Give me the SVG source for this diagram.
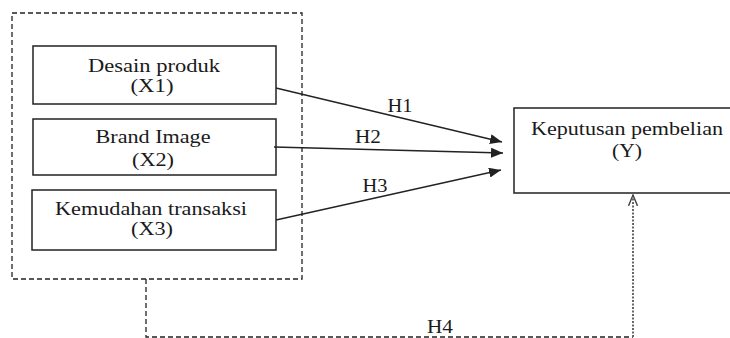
<svg xmlns="http://www.w3.org/2000/svg" width="730" height="338" viewBox="0 0 730 338">
<style>
.box{fill:#fff;stroke:#222;stroke-width:1.5}
.t{font-family:"Liberation Serif","Times New Roman",serif;font-size:19px;fill:#1a1a1a;text-anchor:middle}
.ln{fill:none;stroke:#222;stroke-width:1.3}
.dash{fill:none;stroke:#222;stroke-width:1.3;stroke-dasharray:5,3}
.dot{fill:none;stroke:#666;stroke-width:2;stroke-dasharray:2,1.5}
</style>
<defs>
<marker id="ah" viewBox="0 0 12 10" refX="12" refY="5" markerWidth="12" markerHeight="10" markerUnits="userSpaceOnUse" orient="auto">
<path d="M0,0 L12,5 L0,10 Z" fill="#222"/>
</marker>
<marker id="oa" viewBox="0 0 12 10" refX="11" refY="5" markerWidth="12" markerHeight="10" markerUnits="userSpaceOnUse" orient="auto">
<path d="M0,0.5 L11,5 L0,9.5" fill="none" stroke="#444" stroke-width="1.4"/>
</marker>
</defs>
<rect id="group-x" x="12" y="13" width="290" height="266" class="dash"/>
<g id="x1">
<rect x="33" y="46" width="243" height="58" class="box"/>
<text class="t" x="154" y="72" textLength="132" lengthAdjust="spacingAndGlyphs">Desain produk</text>
<text class="t" x="152" y="92" textLength="43" lengthAdjust="spacingAndGlyphs">(X1)</text>
</g>
<g id="x2">
<rect x="33" y="119" width="243" height="56" class="box"/>
<text class="t" x="153" y="143" textLength="115" lengthAdjust="spacingAndGlyphs">Brand Image</text>
<text class="t" x="153" y="166" textLength="42" lengthAdjust="spacingAndGlyphs">(X2)</text>
</g>
<g id="x3">
<rect x="32" y="190" width="244" height="60" class="box"/>
<text class="t" x="151" y="215" textLength="192" lengthAdjust="spacingAndGlyphs">Kemudahan transaksi</text>
<text class="t" x="152" y="235" textLength="42" lengthAdjust="spacingAndGlyphs">(X3)</text>
</g>
<g id="y">
<rect x="514" y="108" width="225" height="85" class="box"/>
<text class="t" x="627" y="135" textLength="192" lengthAdjust="spacingAndGlyphs">Keputusan pembelian</text>
<text class="t" x="627" y="157" textLength="30" lengthAdjust="spacingAndGlyphs">(Y)</text>
</g>
<g id="connectors">
<line x1="276" y1="88" x2="502" y2="142" class="ln" marker-end="url(#ah)"/>
<line x1="274" y1="147" x2="503" y2="153" class="ln" marker-end="url(#ah)"/>
<line x1="276" y1="220" x2="501" y2="170" class="ln" marker-end="url(#ah)"/>
<polyline points="146,279 146,337 633,337" class="dash"/>
<line x1="633" y1="337" x2="633" y2="195" class="dot" marker-end="url(#oa)"/>
<text class="t" x="400" y="112" textLength="25" lengthAdjust="spacingAndGlyphs">H1</text>
<text class="t" x="368" y="143" textLength="26" lengthAdjust="spacingAndGlyphs">H2</text>
<text class="t" x="375" y="192" textLength="25" lengthAdjust="spacingAndGlyphs">H3</text>
<text class="t" x="440" y="333" textLength="26" lengthAdjust="spacingAndGlyphs">H4</text>
</g>
</svg>
